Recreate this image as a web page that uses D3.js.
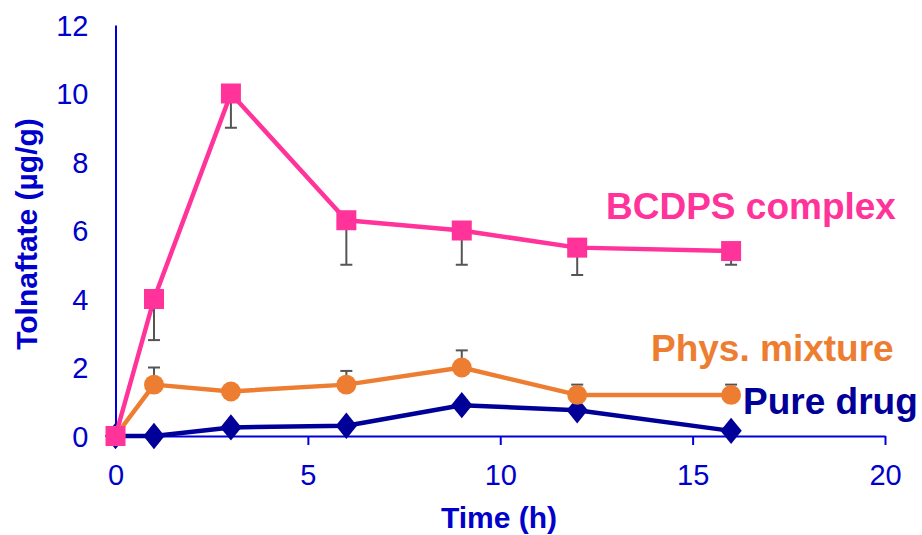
<!DOCTYPE html>
<html>
<head>
<meta charset="utf-8">
<script src="https://cdn.jsdelivr.net/npm/d3@7"></script>
<style>
  html, body { margin: 0; padding: 0; background: #ffffff; }
  svg { display: block; }
  text { font-family: "Liberation Sans", Arial, Helvetica, sans-serif; }
</style>
</head>
<body>
<svg id="chart" width="922" height="535"></svg>
<script>
// ---- data ----
const times = [0, 1, 3, 6, 9, 12, 16];
const bcdpsValues = [0, 4.0, 10.0, 6.3, 6.0, 5.5, 5.4];
const bcdpsErrors = [0, 1.2, 1.0, 1.3, 1.0, 0.8, 0.4];
const physValues = [0, 1.5, 1.3, 1.5, 2.0, 1.2, 1.2];
const physErrors = [0, 0.5, 0, 0.4, 0.5, 0.3, 0.3];
const pureValues = [0, 0, 0.25, 0.3, 0.9, 0.75, 0.15];
const pureErrors = [0, 0, 0, 0, 0.15, 0, 0];
const xTicks = [0, 5, 10, 15, 20];
const yTicks = [0, 2, 4, 6, 8, 10, 12];
const seriesNames = ["BCDPS complex", "Phys. mixture", "Pure drug"];
const xTitle = "Time (h)";
const yTitle = "Tolnaftate (µg/g)";

// ---- layout ----
const svg = d3.select("#chart");
svg.append("rect").attr("width", 922).attr("height", 535).attr("fill", "#ffffff");

const x = d3.scaleLinear().domain([0, 20]).range([115.5, 885]);
const y = d3.scaleLinear().domain([0, 12]).range([436, 25]);

const axisColor = "#0000DD";
const labelColor = "#0000CC";

// Y axis
const yAxis = svg.append("g").attr("transform", `translate(${x(0)},0)`)
  .call(d3.axisLeft(y).tickValues(yTicks).tickSize(0).tickPadding(27).tickFormat(d3.format("d")));
yAxis.select(".domain").attr("stroke", axisColor).attr("stroke-width", 2);
yAxis.selectAll("text")
  .attr("fill", labelColor)
  .attr("dy", null)
  .attr("dominant-baseline", "central")
  .style("font-size", "29px")
  .style("font-family", "'Liberation Sans', Arial, sans-serif");

// X axis
const xAxis = svg.append("g").attr("transform", `translate(0,${y(0)})`)
  .call(d3.axisBottom(x).tickValues(xTicks).tickSizeInner(9).tickSizeOuter(0).tickFormat(d3.format("d")));
xAxis.select(".domain").attr("stroke", axisColor).attr("stroke-width", 2);
xAxis.selectAll(".tick line").attr("stroke", axisColor).attr("stroke-width", 2);
xAxis.selectAll("text")
  .attr("fill", labelColor)
  .attr("y", 49)
  .attr("dy", null)
  .style("font-size", "29px")
  .style("font-family", "'Liberation Sans', Arial, sans-serif");

// Axis titles
svg.append("text")
  .attr("x", 499).attr("y", 528)
  .attr("text-anchor", "middle")
  .attr("fill", labelColor)
  .style("font-size", "30px").style("font-weight", "bold")
  .text(xTitle);

svg.append("text")
  .attr("transform", "translate(37,234) rotate(-90)")
  .attr("text-anchor", "middle")
  .attr("fill", labelColor)
  .style("font-size", "30px").style("font-weight", "bold")
  .text(yTitle);

// ---- series ----
const series = [
  { name: seriesNames[2], values: pureValues, errors: pureErrors, dir: -1, color: "#000099", marker: "diamond",
    label: { x: 743, y: 414 } },
  { name: seriesNames[1], values: physValues, errors: physErrors, dir: -1, color: "#ED7D31", marker: "circle",
    label: { x: 651, y: 361 } },
  { name: seriesNames[0], values: bcdpsValues, errors: bcdpsErrors, dir: 1, color: "#FF3399", marker: "square",
    label: { x: 606, y: 219 } }
];

const line = d3.line().x(d => x(d.t)).y(d => y(d.v));

series.forEach(s => {
  const pts = times.map((t, i) => ({ t, v: s.values[i], e: s.errors[i] }));
  const g = svg.append("g");

  // error bars
  const eb = g.selectAll(".eb").data(pts.filter(p => p.e > 0)).enter().append("g");
  eb.append("line")
    .attr("x1", p => x(p.t)).attr("x2", p => x(p.t))
    .attr("y1", p => y(p.v))
    .attr("y2", p => y(p.v - s.dir * p.e))
    .attr("stroke", "#555555").attr("stroke-width", 2);
  eb.append("line")
    .attr("x1", p => x(p.t) - 6).attr("x2", p => x(p.t) + 6)
    .attr("y1", p => y(p.v - s.dir * p.e))
    .attr("y2", p => y(p.v - s.dir * p.e))
    .attr("stroke", "#555555").attr("stroke-width", 2);

  // line
  g.append("path").datum(pts)
    .attr("d", line)
    .attr("fill", "none")
    .attr("stroke", s.color)
    .attr("stroke-width", 4.5)
    .attr("stroke-linejoin", "round");

  // markers
  let sym;
  if (s.marker === "square") sym = d3.symbol().type(d3.symbolSquare).size(400);
  else if (s.marker === "circle") sym = d3.symbol().type(d3.symbolCircle).size(310);
  else sym = d3.symbol().type(d3.symbolDiamond).size(200);

  g.selectAll(".mk").data(pts).enter().append("path")
    .attr("d", sym)
    .attr("transform", p => s.marker === "diamond"
      ? `translate(${x(p.t)},${y(p.v)}) scale(1.4,1)`
      : `translate(${x(p.t)},${y(p.v)})`)
    .attr("fill", s.color);

  // series label
  svg.append("text")
    .attr("x", s.label.x).attr("y", s.label.y)
    .attr("fill", s.color)
    .style("font-size", "37px").style("font-weight", "bold")
    .text(s.name);
});
</script>
</body>
</html>
